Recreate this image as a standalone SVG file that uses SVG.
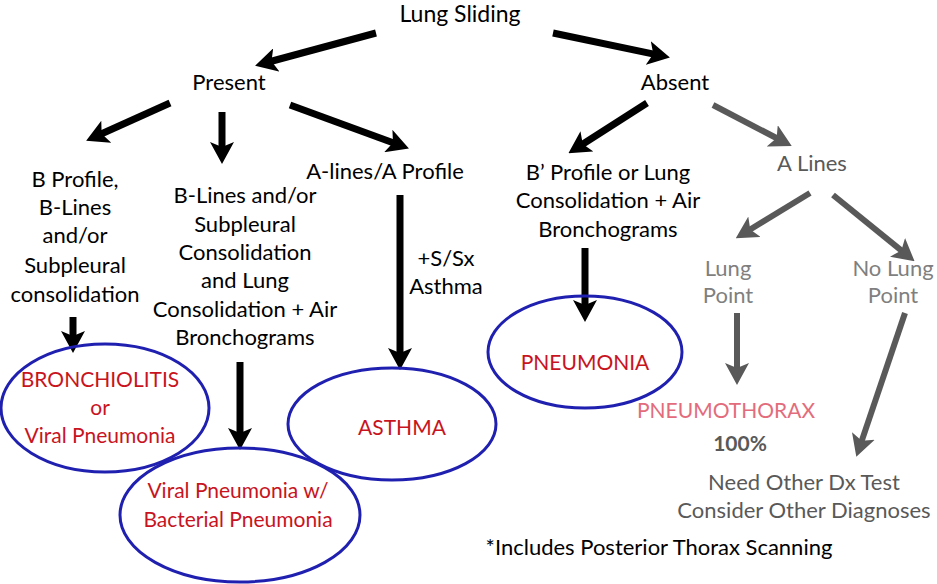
<svg xmlns="http://www.w3.org/2000/svg" width="937" height="584" viewBox="0 0 937 584">
<defs>
<style>
text{font-family:Lato,"Liberation Sans",sans-serif;text-anchor:middle}
.t{font-size:22px;fill:#000}
.g{font-size:22px;fill:#595959}
.lg{font-size:22px;fill:#7f7f7f}
.r{font-size:21px;fill:#c8141e}
.pk{font-size:21px;fill:#e36c7c}
.ell{fill:none;stroke:#2020b0;stroke-width:3}
.ab{stroke:#000;stroke-width:7;fill:none}
.ag{stroke:#595959;stroke-width:6;fill:none}
</style>
<marker id="hb" viewBox="0 0 22 24" refX="8" refY="12" markerWidth="22" markerHeight="24" markerUnits="userSpaceOnUse" orient="auto">
<path d="M0,0 L22,12 L0,24 L5,12 Z" fill="#000"/>
</marker>
<marker id="hg" viewBox="0 0 22 24" refX="8" refY="12" markerWidth="22" markerHeight="24" markerUnits="userSpaceOnUse" orient="auto">
<path d="M0,0 L22,12 L0,24 L5,12 Z" fill="#595959"/>
</marker>
</defs>
<rect width="937" height="584" fill="#fff"/>

<g id="connectors">
<line class="ab" marker-end="url(#hb)" x1="376" y1="33" x2="268.6" y2="62"/>
<line class="ab" marker-end="url(#hb)" x1="553" y1="33" x2="656.2" y2="54.6"/>
<line class="ab" marker-end="url(#hb)" x1="170" y1="103" x2="98.9" y2="135"/>
<line class="ab" marker-end="url(#hb)" x1="222" y1="112" x2="222" y2="150"/>
<line class="ab" marker-end="url(#hb)" x1="290" y1="105" x2="395.8" y2="143.8"/>
<line class="ab" marker-end="url(#hb)" x1="647" y1="103" x2="580.2" y2="145.7"/>
<line class="ag" marker-end="url(#hg)" x1="713" y1="105" x2="779.3" y2="139.5"/>
<line class="ag" marker-end="url(#hg)" x1="810" y1="193" x2="747.7" y2="231"/>
<line class="ag" marker-end="url(#hg)" x1="833" y1="195" x2="903.7" y2="252.4"/>
<line class="ag" marker-end="url(#hg)" x1="737" y1="313" x2="737" y2="371"/>
<line class="ag" marker-end="url(#hg)" x1="905" y1="313" x2="860.8" y2="443.6"/>
<line class="ab" marker-end="url(#hb)" x1="73" y1="317" x2="73" y2="339"/>
<line class="ab" marker-end="url(#hb)" x1="240" y1="362" x2="240" y2="436"/>
<line class="ab" marker-end="url(#hb)" x1="400" y1="195" x2="400" y2="356"/>
<line class="ab" marker-end="url(#hb)" x1="585" y1="248" x2="585" y2="308"/>
</g>

<g id="lung-sliding"><text class="t" x="460" y="22" style="font-size:23px">Lung Sliding</text></g>
<g id="present"><text class="t" x="229" y="90">Present</text></g>
<g id="absent"><text class="t" x="675" y="90">Absent</text></g>

<g id="b-profile">
<text class="t" x="75" y="187">B Profile,</text>
<text class="t" x="75" y="215">B-Lines</text>
<text class="t" x="75" y="243">and/or</text>
<text class="t" x="75" y="273">Subpleural</text>
<text class="t" x="75" y="302">consolidation</text>
</g>
<g id="b-lines">
<text class="t" x="245" y="203">B-Lines and/or</text>
<text class="t" x="245" y="232">Subpleural</text>
<text class="t" x="245" y="260">Consolidation</text>
<text class="t" x="245" y="288">and Lung</text>
<text class="t" x="245" y="317">Consolidation + Air</text>
<text class="t" x="245" y="345">Bronchograms</text>
</g>
<g id="a-lines-profile"><text class="t" x="385" y="179">A-lines/A Profile</text></g>
<g id="ssx">
<text class="t" x="446" y="266">+S/Sx</text>
<text class="t" x="446" y="294">Asthma</text>
</g>
<g id="b-prime">
<text class="t" x="608" y="180">B’ Profile or Lung</text>
<text class="t" x="608" y="208">Consolidation + Air</text>
<text class="t" x="608" y="237">Bronchograms</text>
</g>
<g id="a-lines"><text class="g" x="812" y="171">A Lines</text></g>
<g id="lung-point">
<text class="lg" x="728" y="276">Lung</text>
<text class="lg" x="728" y="303">Point</text>
</g>
<g id="no-lung-point">
<text class="lg" x="893" y="276">No Lung</text>
<text class="lg" x="893" y="303">Point</text>
</g>

<g id="bronchiolitis">
<ellipse class="ell" cx="105" cy="408" rx="104" ry="64"/>
<text class="r" x="100" y="387">BRONCHIOLITIS</text>
<text class="r" x="100" y="415">or</text>
<text class="r" x="100" y="443">Viral Pneumonia</text>
</g>
<g id="viral-bacterial">
<ellipse class="ell" cx="240" cy="515" rx="120" ry="67"/>
<text class="r" x="238" y="498">Viral Pneumonia w/</text>
<text class="r" x="238" y="527">Bacterial Pneumonia</text>
</g>
<g id="asthma">
<ellipse class="ell" cx="392" cy="424" rx="104" ry="56"/>
<text class="r" x="402" y="435">ASTHMA</text>
</g>
<g id="pneumonia">
<ellipse class="ell" cx="585" cy="352" rx="97" ry="56"/>
<text class="r" x="585" y="370">PNEUMONIA</text>
</g>
<g id="pneumothorax">
<text class="pk" x="726" y="418">PNEUMOTHORAX</text>
<text class="g" x="740" y="451" style="font-weight:bold;font-size:21px">100%</text>
</g>
<g id="need-other">
<text class="g" x="804" y="490">Need Other Dx Test</text>
<text class="g" x="804" y="518">Consider Other Diagnoses</text>
</g>
<g id="footnote"><text class="t" x="659" y="555">*Includes Posterior Thorax Scanning</text></g>
</svg>
